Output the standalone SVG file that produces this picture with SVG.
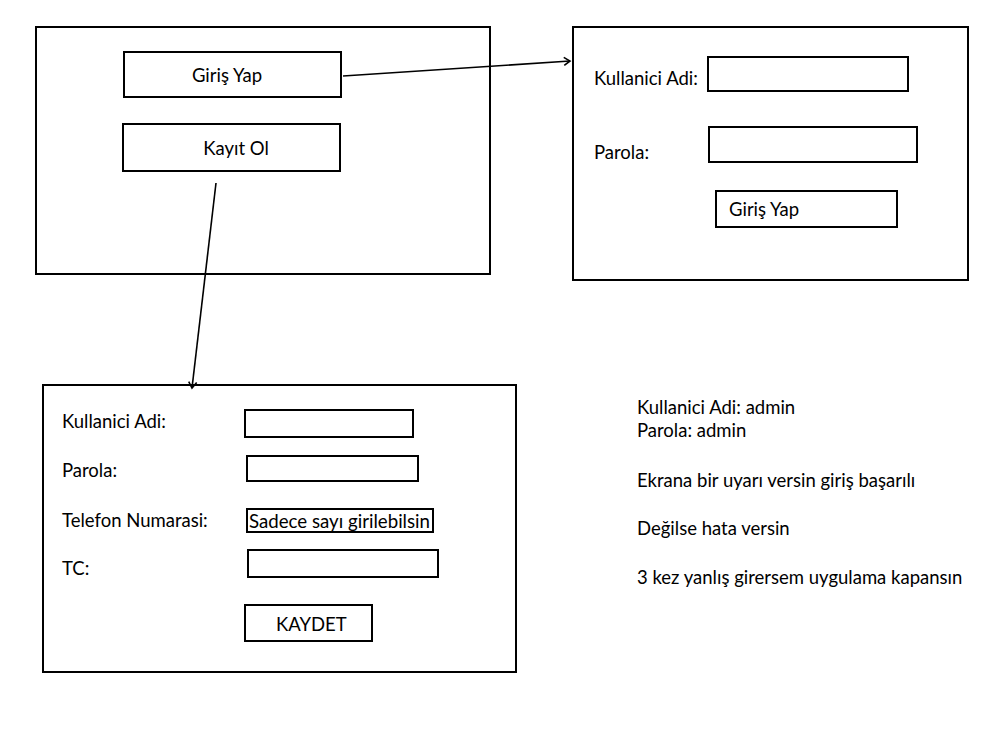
<svg xmlns="http://www.w3.org/2000/svg" width="1000" height="750" viewBox="0 0 1000 750">
<defs>
<marker id="arr" markerWidth="10" markerHeight="10" refX="8" refY="5" orient="auto" markerUnits="userSpaceOnUse">
<path d="M2,1 L8,5 L2,9" fill="none" stroke="#000" stroke-width="1.6"/>
</marker>
<style>
rect{fill:#fff;stroke:#000;stroke-width:2}
text{font-family:"Lato","Open Sans","Liberation Sans",sans-serif;font-size:18.5px;fill:#000;dominant-baseline:central}
.c{text-anchor:middle}
.conn{stroke:#000;stroke-width:1.6;fill:none}
</style>
</defs>
<rect width="1000" height="750" style="stroke:none"/>
<g id="screen-main">
<rect x="36" y="27" width="454" height="247"/>
<g id="btn-giris"><rect x="124" y="52" width="217" height="45"/><text class="c" x="227" y="75">Giriş Yap</text></g>
<g id="btn-kayit"><rect x="123" y="124" width="217" height="47"/><text class="c" x="236" y="148">Kayıt Ol</text></g>
</g>
<g id="screen-login">
<rect x="573" y="27" width="395" height="253"/>
<text x="594" y="78">Kullanici Adi:</text>
<rect x="708" y="57" width="200" height="34"/>
<text x="594" y="152">Parola:</text>
<rect x="709" y="127" width="208" height="35"/>
<g id="btn-login"><rect x="716" y="191" width="181" height="36"/><text x="729" y="209">Giriş Yap</text></g>
</g>
<g id="screen-register">
<rect x="43" y="385" width="473" height="287"/>
<text x="62" y="421">Kullanici Adi:</text>
<rect x="245" y="410" width="168" height="27"/>
<text x="62" y="470">Parola:</text>
<rect x="247" y="456" width="171" height="25"/>
<text x="62" y="520">Telefon Numarasi:</text>
<rect x="247" y="509" width="186" height="23"/>
<text x="249" y="521" textLength="181" lengthAdjust="spacingAndGlyphs" style="font-size:18.5px">Sadece sayı girilebilsin</text>
<text x="62" y="568">TC:</text>
<rect x="248" y="550" width="190" height="27"/>
<g id="btn-kaydet"><rect x="245" y="605" width="127" height="36"/><text x="276" y="624">KAYDET</text></g>
</g>
<g id="notes">
<text x="637" y="407">Kullanici Adi: admin</text>
<text x="637" y="430">Parola: admin</text>
<text x="637" y="480">Ekrana bir uyarı versin giriş başarılı</text>
<text x="637" y="528">Değilse hata versin</text>
<text x="637" y="577">3 kez yanlış girersem uygulama kapansın</text>
</g>
<g id="connectors">
<line class="conn" x1="343" y1="76" x2="570" y2="61" marker-end="url(#arr)"/>
<line class="conn" x1="216" y1="183" x2="192" y2="388" marker-end="url(#arr)"/>
</g>
</svg>
